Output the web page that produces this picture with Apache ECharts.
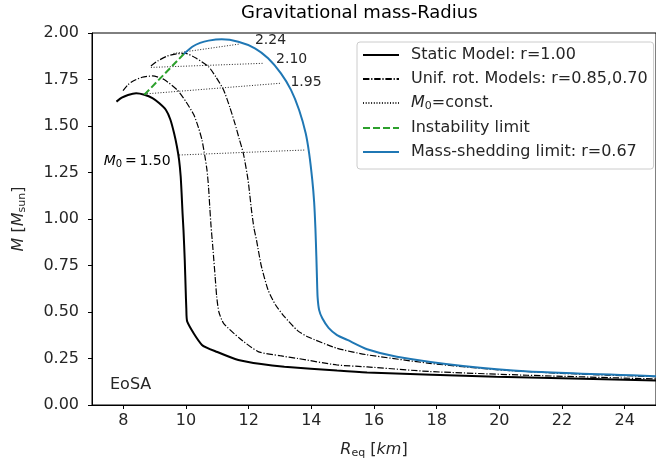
<!DOCTYPE html>
<html><head><meta charset="utf-8">
<script src="https://cdn.jsdelivr.net/npm/echarts@6/dist/echarts.min.js"></script>
<style>html,body{margin:0;padding:0;background:#fff}#c{width:656px;height:464px}</style>
</head><body><div id="c"></div>
<script>
// ---- data (R_eq [km], M [M_sun]) ----
const xTicks = [8, 10, 12, 14, 16, 18, 20, 22, 24];
const yTicks = [0, 0.25, 0.5, 0.75, 1.0, 1.25, 1.5, 1.75, 2.0];

const staticModel = [[7.78,1.631],[7.95,1.652],[8.15,1.667],[8.41,1.676],[8.67,1.668],[8.93,1.65],[9.15,1.622],[9.36,1.586],[9.5,1.535],[9.62,1.461],[9.71,1.39],[9.78,1.317],[9.83,1.23],[9.86,1.138],[9.89,1.03],[9.92,0.94],[9.96,0.78],[9.99,0.618],[10.01,0.52],[10.04,0.448],[10.51,0.323],[11.0,0.285],[11.67,0.242],[12.4,0.22],[13.14,0.206],[14.82,0.185],[15.78,0.175],[19.9,0.152],[25,0.132]];
const rot085 = [[7.99,1.69],[8.15,1.722],[8.3,1.741],[8.6,1.762],[8.93,1.769],[9.3,1.75],[9.72,1.694],[10.0,1.63],[10.25,1.56],[10.4,1.49],[10.51,1.425],[10.6,1.34],[10.67,1.263],[10.72,1.17],[10.76,1.06],[10.8,0.96],[10.85,0.86],[10.88,0.797],[10.93,0.69],[10.98,0.582],[11.05,0.5],[11.2,0.439],[11.7,0.36],[12.3,0.287],[13.0,0.265],[13.57,0.25],[14.82,0.215],[15.78,0.205],[17.78,0.18],[20.9,0.16],[25,0.14]];
const rot070 = [[8.88,1.823],[9.1,1.85],[9.4,1.876],[9.7,1.888],[9.99,1.89],[10.35,1.862],[10.72,1.819],[10.95,1.765],[11.2,1.694],[11.4,1.6],[11.56,1.514],[11.7,1.43],[11.83,1.353],[11.98,1.21],[12.09,1.048],[12.17,0.95],[12.25,0.887],[12.4,0.75],[12.62,0.618],[12.85,0.54],[13.14,0.475],[13.56,0.40],[13.88,0.367],[14.82,0.305],[15.78,0.27],[17.78,0.224],[19.9,0.19],[22,0.17],[25,0.152]];
const instability = [[8.67,1.668],[9.93,1.887]];
const massShedding = [[9.93,1.887],[10.2,1.926],[10.45,1.947],[10.72,1.959],[11.14,1.966],[11.67,1.953],[12.2,1.918],[12.62,1.864],[13.03,1.783],[13.35,1.694],[13.61,1.586],[13.82,1.461],[13.93,1.353],[14.03,1.21],[14.09,1.09],[14.13,0.95],[14.16,0.8],[14.18,0.68],[14.2,0.58],[14.25,0.51],[14.35,0.466],[14.55,0.415],[14.82,0.376],[15.15,0.35],[15.78,0.3],[16.73,0.26],[18.84,0.21],[20.94,0.18],[25,0.155]];
const m0Values = ['1.50', '1.95', '2.10', '2.24'];
const m0Lines = [
  [[9.78,1.344],[13.82,1.371]],
  [[8.67,1.672],[13.03,1.73]],
  [[8.88,1.815],[12.46,1.837]],
  [[9.6,1.89],[11.72,1.941]]
];

const FONT = 'DejaVu Sans';
const NAME_STATIC = 'Static Model: r=1.00';
const NAME_ROT = 'Unif. rot. Models: r=0.85,0.70';
const NAME_M0 = 'M0=const.';
const NAME_INST = 'Instability limit';
const NAME_MS = 'Mass-shedding limit: r=0.67';

const mkRich = (fs, sfs, pad) => ({
  it: {fontStyle: 'italic', fontFamily: FONT, fontSize: fs, color: '#262626'},
  sub: {fontFamily: FONT, fontSize: sfs, color: '#262626', verticalAlign: 'bottom', padding: [pad,0,0,0]},
  n: {fontFamily: FONT, fontSize: fs, color: '#262626'}
});
const rich16 = mkRich(16, 11, 7);
const rich14 = mkRich(14, 10, 6);

const chart = echarts.init(document.getElementById('c'), null, {renderer: 'canvas'});
const hidden = {opacity: 0};
const series = [];
m0Lines.forEach(d => series.push({
  name: NAME_M0, type: 'line', data: d, symbol: 'none', z: 1, itemStyle: hidden,
  lineStyle: {color: '#222', width: 1, type: [1, 1.7]}
}));
series.push({name: NAME_STATIC, type: 'line', data: staticModel, symbol: 'none', z: 3, smooth: 0.2, itemStyle: hidden,
  lineStyle: {color: '#000', width: 2}});
[rot085, rot070].forEach(d => series.push({name: NAME_ROT, type: 'line', data: d, symbol: 'none', z: 2, smooth: 0.2, itemStyle: hidden,
  lineStyle: {color: '#000', width: 1.2, type: [6.4, 1.8, 1.2, 1.8]}}));
series.push({name: NAME_INST, type: 'line', data: instability, symbol: 'none', z: 4, itemStyle: hidden,
  lineStyle: {color: '#2ca02c', width: 2, type: [7, 3]}});
series.push({name: NAME_MS, type: 'line', data: massShedding, symbol: 'none', z: 3, smooth: 0.2, itemStyle: hidden,
  lineStyle: {color: '#1f77b4', width: 2}});

chart.setOption({
  animation: false,
  backgroundColor: '#fff',
  title: {text: 'Gravitational mass-Radius', left: 241, top: 4, padding: 0,
    textStyle: {fontFamily: FONT, fontSize: 18, fontWeight: 'normal', color: '#000'}},
  grid: {left: 92, top: 33, right: -10, bottom: 59, show: true, borderColor: '#000', borderWidth: 1, backgroundColor: 'transparent'},
  legend: {
    data: [NAME_STATIC, NAME_ROT, NAME_M0, NAME_INST, NAME_MS],
    orient: 'vertical', left: 357, top: 42, padding: [5, 6, 9, 5], itemGap: 8,
    itemWidth: 36, itemHeight: 16, backgroundColor: '#fff', borderColor: '#ccc', borderWidth: 1, borderRadius: 3,
    formatter: n => n === NAME_M0 ? '{it|M}{sub|0}{n|=const.}' : n,
    textStyle: {fontFamily: FONT, fontSize: 16, color: '#262626', padding: [0,0,0,7], rich: rich16}
  },
  xAxis: {type: 'value', min: 7, max: 25,
    name: '{it|R}{sub|eq}{n| [}{it|km}{n|]}', nameLocation: 'middle', nameGap: 36,
    nameTextStyle: {rich: rich16},
    axisLine: {lineStyle: {color: '#000'}},
    axisTick: {length: 4, lineStyle: {color: '#000'}, customValues: xTicks},
    axisLabel: {fontFamily: FONT, fontSize: 16, color: '#262626', margin: 8, customValues: xTicks},
    splitLine: {show: false}},
  yAxis: {type: 'value', min: 0, max: 2, interval: 0.25,
    name: '{it|M}{n| [}{it|M}{sub|sun}{n|]}', nameLocation: 'middle', nameGap: 64, nameRotate: 90,
    nameTextStyle: {rich: rich16},
    axisLine: {show: true, lineStyle: {color: '#000'}},
    axisTick: {show: true, length: 4, lineStyle: {color: '#000'}},
    axisLabel: {fontFamily: FONT, fontSize: 16, color: '#262626', margin: 13,
      formatter: v => v.toFixed(2)},
    splitLine: {show: false}},
  series: series
});

// labels anchored to the M0=const. lines
const pix = p => chart.convertToPixel({xAxisIndex: 0, yAxisIndex: 0}, p);
const graphics = [];
const offs = [[-8.5, 6.7], [9.5, -1], [13, -4], [15, -4]];
m0Lines.forEach((d, i) => {
  if (i === 0) {
    const p = pix(d[0]);
    graphics.push({type: 'text', x: p[0] + offs[i][0], y: p[1] + offs[i][1], style: {
      text: '{it|M}{sub|0}{n|\u2009=\u20091.50}', rich: rich14, align: 'right', verticalAlign: 'middle'}});
  } else {
    const p = pix(d[d.length - 1]);
    graphics.push({type: 'text', x: p[0] + offs[i][0], y: p[1] + offs[i][1], style: {
      text: m0Values[i], fontFamily: FONT, fontSize: 14, fill: '#262626', align: 'left', verticalAlign: 'middle'}});
  }
});
graphics.push({type: 'text', left: 110, top: 377, style: {text: 'EoSA', fontFamily: FONT, fontSize: 16, fill: '#262626'}});
chart.setOption({graphic: graphics});
</script></body></html>
